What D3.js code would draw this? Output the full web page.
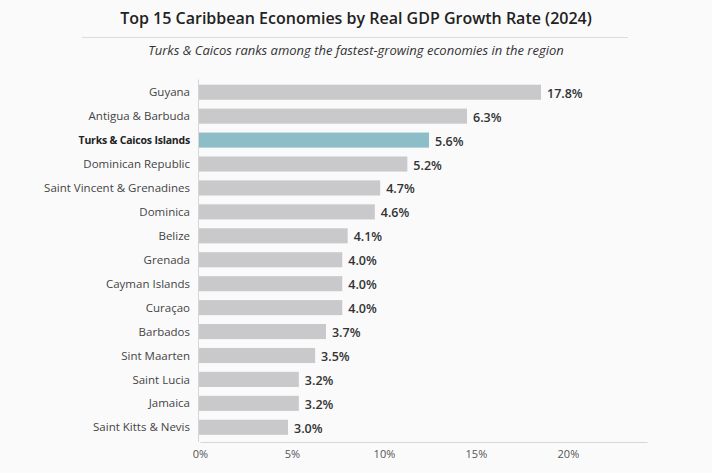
<!DOCTYPE html>
<html>
<head>
<meta charset="utf-8">
<script src="https://cdn.jsdelivr.net/npm/d3@7"></script>
<style>
  html, body { margin: 0; padding: 0; background: #fafafb; }
  svg { display: block; font-family: "Open Sans", "DejaVu Sans", sans-serif; }
</style>
</head>
<body>
<svg id="chart" width="712" height="473"></svg>
<script>
// data
const countries = ["Guyana", "Antigua & Barbuda", "Turks & Caicos Islands", "Dominican Republic",
    "Saint Vincent & Grenadines", "Dominica", "Belize", "Grenada", "Cayman Islands", "Curaçao",
    "Barbados", "Sint Maarten", "Saint Lucia", "Jamaica", "Saint Kitts & Nevis"]
const growth = [17.8, 6.3, 5.6, 5.2, 4.7, 4.6, 4.1, 4.0, 4.0, 4.0, 3.7, 3.5, 3.2, 3.2, 3.0]
const highlight = "Turks & Caicos Islands"
const xTicks = [0, 5, 10, 15, 20]

const W = 712, H = 473
const plotL = 199, plotR = 647, plotT = 77.5, plotB = 442

const svg = d3.select("#chart")

// title + rule + subtitle
svg.append("text")
    .attr("x", W / 2).attr("y", 24)
    .attr("text-anchor", "middle")
    .attr("font-size", 16).attr("font-weight", 600)
    .attr("fill", "#222")
    .text("Top 15 Caribbean Economies by Real GDP Growth Rate (2024)")

svg.append("line")
    .attr("x1", 82).attr("x2", 628)
    .attr("y1", 37.5).attr("y2", 37.5)
    .attr("stroke", "#dcdcdc").attr("stroke-width", 1)

svg.append("text")
    .attr("x", W / 2).attr("y", 55)
    .attr("text-anchor", "middle")
    .attr("font-size", 13).attr("font-style", "italic")
    .attr("fill", "#333")
    .text("Turks & Caicos ranks among the fastest-growing economies in the region")

// scales
const x = d3.scaleLinear().domain([0, 24.3]).range([plotL + 1, plotR])
// the reference draws bars on a compressed (non-proportional) scale; keep that look
const xBar = d3.scaleLinear().domain([0, 3, 6.3, 17.8]).range([0, 89, 268, 342])
const y = d3.scaleBand().domain(countries).range([plotT, plotB]).paddingInner(0.37).paddingOuter(0.3)

// bars
svg.append("g")
    .selectAll("rect")
    .data(countries)
    .join("rect")
    .attr("x", plotL)
    .attr("y", d => y(d))
    .attr("height", y.bandwidth())
    .attr("width", (d, i) => xBar(growth[i]))
    .attr("fill", d => d === highlight ? "#8dbdc6" : "#c9c8ca")

// value labels
svg.append("g")
    .selectAll("text")
    .data(countries)
    .join("text")
    .attr("x", (d, i) => plotL + xBar(growth[i]) + 6)
    .attr("y", d => y(d) + y.bandwidth() / 2 + 1)
    .attr("dy", "0.36em")
    .attr("font-size", 12.5).attr("font-weight", 600)
    .attr("fill", "#333")
    .text((d, i) => growth[i].toFixed(1) + "%")

// category labels
svg.append("g")
    .selectAll("text")
    .data(countries)
    .join("text")
    .attr("x", plotL - 9)
    .attr("y", d => y(d) + y.bandwidth() / 2)
    .attr("dy", "0.36em")
    .attr("text-anchor", "end")
    .attr("font-size", d => d === highlight ? 10.5 : 11.5)
    .attr("font-weight", d => d === highlight ? 700 : 400)
    .attr("letter-spacing", d => d === highlight ? -0.2 : 0)
    .attr("fill", d => d === highlight ? "#222" : "#444")
    .text(d => d)

// left rule
svg.append("line")
    .attr("x1", plotL - 0.5).attr("x2", plotL - 0.5)
    .attr("y1", plotT + 2).attr("y2", plotB)
    .attr("stroke", "#d6d6d6")

// x axis
const xAxis = svg.append("g")
    .attr("transform", `translate(0,${plotB})`)
    .call(d3.axisBottom(x).tickValues(xTicks).tickSize(0).tickPadding(8).tickFormat(d => d + "%"))
xAxis.select(".domain").attr("stroke", "#d6d6d6")
xAxis.selectAll("text")
    .attr("font-family", "Open Sans, sans-serif")
    .attr("font-size", 11).attr("fill", "#555")
</script>
</body>
</html>
